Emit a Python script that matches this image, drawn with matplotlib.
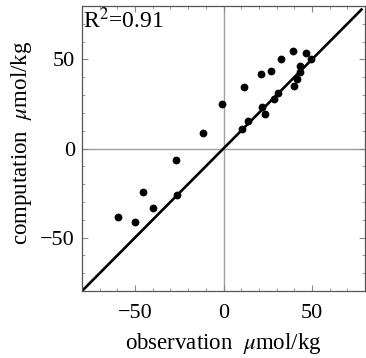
import matplotlib
matplotlib.use('Agg')
import matplotlib.pyplot as plt
import numpy as np

# observation vs computation, umol/kg
obs = [-59.4, -50.0, -45.7, -39.9, -26.7, -26.1, -11.8, -0.6, 10.6, 11.8,
       13.6, 21.3, 22.0, 23.3, 26.7, 28.6, 31.0, 32.7, 39.4, 39.9,
       41.6, 43.3, 43.5, 46.6, 49.4]
comp = [-38.6, -41.0, -24.6, -33.4, -6.5, -26.0, 8.6, 25.0, 11.0, 34.7,
        15.3, 41.6, 23.5, 19.2, 43.6, 27.6, 31.3, 50.3, 54.8, 35.2,
        39.2, 46.4, 43.0, 53.7, 50.3]
r2_text = 'R$^{2}$=0.91'
xlim = (-80, 78)
ylim = (-80, 80)
major_ticks = [-50, 0, 50]
minor_ticks = np.arange(-80, 81, 10)

plt.rcParams['font.family'] = ['Liberation Serif', 'DejaVu Serif']
plt.rcParams['mathtext.fontset'] = 'stix'
plt.rcParams['axes.unicode_minus'] = True

fig = plt.figure(figsize=(3.66, 3.58), dpi=100)
ax = fig.add_axes([82 / 366, 1 - 291 / 358, 283 / 366, 285 / 358])

ax.axhline(0, color='#a0a0a0', lw=1.0, zorder=1)
ax.axvline(0, color='#a0a0a0', lw=1.0, zorder=1)
ax.plot(xlim, xlim, color='black', lw=1.9, zorder=2)
ax.plot(obs, comp, 'o', color='black', ms=4.6, zorder=3)

ax.set_xlim(*xlim)
ax.set_ylim(*ylim)
ax.set_xticks(major_ticks)
ax.set_yticks(major_ticks)
ax.set_xticks(minor_ticks, minor=True)
ax.set_yticks(minor_ticks, minor=True)
ax.tick_params(which='both', direction='in', top=True, right=True,
               color='#888888', labelsize=16, pad=5)
ax.tick_params(axis='x', which='both', pad=9)
ax.tick_params(which='major', length=4, width=0.8)
ax.tick_params(which='minor', length=2.5, width=0.6)
for s in ax.spines.values():
    s.set_color('#555555')
    s.set_linewidth(0.9)

ax.set_xlabel('observation  $\\mu$mol/kg', fontsize=16.5, labelpad=6)
ax.set_ylabel('computation  $\\mu$mol/kg', fontsize=16.5)
ax.yaxis.set_label_coords(-0.168, 0.52)
ax.text(0.005, 0.995, r2_text, transform=ax.transAxes, ha='left', va='top',
        fontsize=17)

fig.savefig('out.png', dpi=100)
